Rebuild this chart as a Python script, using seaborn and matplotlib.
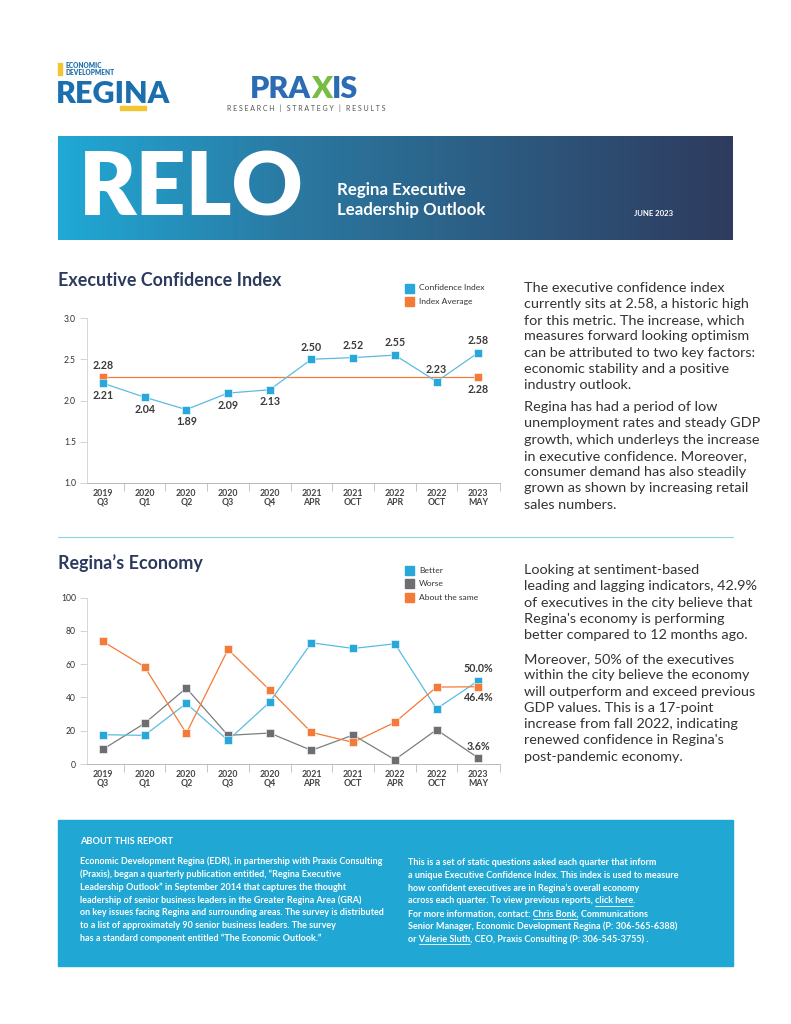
import numpy as np
import seaborn as sns
import matplotlib.pyplot as plt
from matplotlib.colors import LinearSegmentedColormap
from matplotlib.patches import Rectangle
from matplotlib.lines import Line2D

# ---- data ----
periods = ["2019\nQ3", "2020\nQ1", "2020\nQ2", "2020\nQ3", "2020\nQ4",
           "2021\nAPR", "2021\nOCT", "2022\nAPR", "2022\nOCT", "2023\nMAY"]
confidence = [2.21, 2.04, 1.89, 2.09, 2.13, 2.50, 2.52, 2.55, 2.23, 2.58]
index_avg = 2.28
conf_label_side = ["below"] * 5 + ["above"] * 5

better = [17.6, 17.2, 36.4, 14.2, 37.2, 72.8, 69.4, 72.2, 33.2, 50.0]
worse = [8.8, 24.4, 45.6, 17.2, 18.6, 8.2, 17.4, 2.6, 20.6, 3.6]
same = [73.6, 58.4, 18.4, 68.8, 44.4, 19.0, 13.0, 25.0, 46.2, 46.4]

conf_text = [
    ["The executive confidence index",
     "currently sits at 2.58, a historic high",
     "for this metric. The increase, which",
     "measures forward looking optimism",
     "can be attributed to two key factors:",
     "economic stability and a positive",
     "industry outlook."],
    ["Regina has had a period of low",
     "unemployment rates and steady GDP",
     "growth, which underleys the increase",
     "in executive confidence. Moreover,",
     "consumer demand has also steadily",
     "grown as shown by increasing retail",
     "sales numbers."],
]
econ_text = [
    ["Looking at sentiment-based",
     "leading and lagging indicators, 42.9%",
     "of executives in the city believe that",
     "Regina's economy is performing",
     "better compared to 12 months ago."],
    ["Moreover, 50% of the executives",
     "within the city believe the economy",
     "will outperform and exceed previous",
     "GDP values. This is a 17-point",
     "increase from fall 2022, indicating",
     "renewed confidence in Regina's",
     "post-pandemic economy."],
]
about_left = [
    "Economic Development Regina (EDR), in partnership with Praxis Consulting",
    "(Praxis), began a quarterly publication entitled, \u201cRegina Executive",
    "Leadership Outlook\u201d in September 2014 that captures the thought",
    "leadership of senior business leaders in the Greater Regina Area (GRA)",
    "on key issues facing Regina and surrounding areas. The survey is distributed",
    "to a list of approximately 90 senior business leaders. The survey",
    "has a standard component entitled \u201cThe Economic Outlook.\u201d",
]
about_right = [
    "This is a set of static questions asked each quarter that inform",
    "a unique Executive Confidence Index. This index is used to measure",
    "how confident executives are in Regina\u2019s overall economy",
    "across each quarter. To view previous reports, click here.",
    "For more information, contact: Chris Bonk, Communications",
    "Senior Manager, Economic Development Regina (P: 306-565-6388)",
    "or Valerie Sluth, CEO, Praxis Consulting (P: 306-545-3755) .",
]
links = {3: "click here", 4: "Chris Bonk", 6: "Valerie Sluth"}

# ---- colours ----
BLUE = "#27a7da"
BLUE_LINE = "#5bbbe3"
ORANGE = "#f47a38"
GRAY = "#6e6e70"
NAVY = "#2c3a5e"
TEXT = "#333333"
BOX = "#20a7d4"

sns.set_theme(style="white")
plt.rcParams["font.family"] = ["Lato", "DejaVu Sans"]

W, H = 791, 1024
fig = plt.figure(figsize=(W / 100, H / 100), dpi=100)


def fx(px):
    return px / W


def fy(py):
    return 1 - py / H


def lines_at(x, y0, step, lines, **kw):
    out = []
    for i, s in enumerate(lines):
        out.append(fig.text(fx(x), fy(y0 + i * step), s, va="center", **kw))
    return out


# ---- header logos ----
fig.add_artist(Rectangle((fx(58), fy(75)), fx(4), 12 / H, color="#f3c530"))
fig.text(fx(66), fy(66), "ECONOMIC", fontsize=4.7, fontweight="heavy", color="#1b6fae", va="center")
fig.text(fx(66), fy(72.5), "DEVELOPMENT", fontsize=4.7, fontweight="heavy", color="#1b6fae", va="center")
fig.text(fx(56), fy(103), "REGINA", fontsize=22, fontweight="heavy", color="#1b6fae", va="baseline")
fig.add_artist(Rectangle((fx(120), fy(110)), fx(26), 4 / H, color="#f3c530"))

fig.canvas.draw()
renderer = fig.canvas.get_renderer()
px_x = 250
for part, col in [("PRA", "#2b6cb4"), ("X", "#76bd43"), ("IS", "#2b6cb4")]:
    t = fig.text(fx(px_x), fy(98), part, fontsize=22, fontweight="heavy", color=col, va="baseline")
    px_x += t.get_window_extent(renderer).width
fig.text(fx(227), fy(108.5), "R E S E A R C H   |   S T R A T E G Y   |   R E S U L T S",
         fontsize=5.0, color="#555555", va="center")

# ---- banner ----
ax_b = fig.add_axes([fx(58), fy(240), fx(675), 104 / H])
grad = np.linspace(0, 1, 256).reshape(1, -1)
cmap = LinearSegmentedColormap.from_list("band", ["#20a9d6", "#2a7aa3", "#2d5a80", "#2e3b5e"])
ax_b.imshow(grad, aspect="auto", cmap=cmap, extent=[0, 1, 0, 1])
ax_b.set_axis_off()
fig.text(fx(79), fy(190), "RELO", fontsize=63, fontweight="heavy", color="white", va="center")
fig.text(fx(337), fy(190), "Regina Executive", fontsize=12.2, fontweight="bold", color="white", va="center")
fig.text(fx(337), fy(210), "Leadership Outlook", fontsize=12.2, fontweight="bold", color="white", va="center")
fig.text(fx(634), fy(214), "JUNE 2023", fontsize=5.6, fontweight="bold", color="white", va="center")


def style_axes(ax, ylim, yticks, yfmt):
    n = len(periods)
    ax.set_xlim(-0.38, n - 0.48)
    ax.set_ylim(*ylim)
    ax.set_yticks(yticks)
    ax.set_yticklabels([yfmt.format(v) for v in yticks], fontsize=6.2, color=TEXT)
    ax.set_xticks(range(n))
    ax.set_xticklabels(periods, fontsize=6.3, fontweight="bold", color="#444444", linespacing=1.0)
    ax.set_xticks(list(np.arange(0.5, n - 1, 1.0)) + [n - 0.48], minor=True)
    ax.tick_params(axis="x", which="major", length=0, pad=4)
    ax.tick_params(axis="x", which="minor", length=6, width=0.6, color="#bbbbbb", direction="out", bottom=True)
    ax.tick_params(axis="y", length=5, width=0.6, color="#cccccc", direction="out", left=True, pad=3)
    sns.despine(ax=ax)
    ax.spines["left"].set_color("#d0d0d0")
    ax.spines["bottom"].set_color("#b0b0b0")
    ax.spines["left"].set_linewidth(0.6)
    ax.spines["bottom"].set_linewidth(0.6)
    ax.set_xlabel("")
    ax.set_ylabel("")
    ax.grid(False)


def legend_at(x, y0, items):
    for i, (lab, col) in enumerate(items):
        yy = y0 + i * 13.3
        fig.add_artist(Rectangle((fx(x), fy(yy + 4.5)), fx(9), 9 / H, color=col))
        fig.text(fx(x + 14), fy(yy), lab, fontsize=6.1, color=TEXT, va="center")


mk = dict(marker="s", s=34, edgecolor="white", linewidth=0.4, zorder=4, legend=False)
xs = np.arange(len(periods))
BODY = dict(fontsize=10.4, color=TEXT)

# ---- chart 1: Executive Confidence Index ----
fig.text(fx(58), fy(281), "Executive Confidence Index", fontsize=12.9, fontweight="bold", color=NAVY, va="center")
legend_at(405, 288, [("Confidence Index", BLUE), ("Index Average", ORANGE)])

ax1 = fig.add_axes([fx(87), fy(483), fx(413), 165 / H])
sns.lineplot(x=xs, y=[index_avg] * len(xs), ax=ax1, color=ORANGE, lw=0.9)
sns.lineplot(x=xs, y=confidence, ax=ax1, color=BLUE_LINE, lw=0.9)
sns.scatterplot(x=[xs[0], xs[-1]], y=[index_avg, index_avg], ax=ax1, color=ORANGE, **mk)
sns.scatterplot(x=xs, y=confidence, ax=ax1, color=BLUE, **mk)
style_axes(ax1, (1.0, 3.0), [1.0, 1.5, 2.0, 2.5, 3.0], "{:.1f}")

lab = dict(textcoords="offset points", ha="center", va="center", fontsize=7.7, fontweight="bold", color="#3a3a3a")
for xi, v, side in zip(xs, confidence, conf_label_side):
    ax1.annotate(f"{v:.2f}", (xi, v), xytext=(0, 8.8 if side == "above" else -8.8), **lab)
ax1.annotate(f"{index_avg:.2f}", (xs[0], index_avg), xytext=(0, 8.8), **lab)
ax1.annotate(f"{index_avg:.2f}", (xs[-1], index_avg), xytext=(0, -8.8), **lab)

for i, para in enumerate(conf_text):
    lines_at(524, [287.5, 407][i], 16.3, para, **BODY)

# separator
fig.add_artist(Line2D([fx(58), fx(733)], [fy(537), fy(537)], color="#8ccfea", lw=0.8))

# ---- chart 2: Regina's Economy ----
fig.text(fx(58), fy(563), "Regina\u2019s Economy", fontsize=12.9, fontweight="bold", color=NAVY, va="center")
legend_at(405, 570.5, [("Better", BLUE), ("Worse", GRAY), ("About the same", ORANGE)])

ax2 = fig.add_axes([fx(87), fy(764), fx(413), 166.5 / H])
sns.lineplot(x=xs, y=worse, ax=ax2, color="#7d7d7f", lw=0.9)
sns.lineplot(x=xs, y=better, ax=ax2, color=BLUE_LINE, lw=0.9)
sns.lineplot(x=xs, y=same, ax=ax2, color=ORANGE, lw=0.9)
sns.scatterplot(x=xs, y=worse, ax=ax2, color=GRAY, **mk)
sns.scatterplot(x=xs, y=better, ax=ax2, color=BLUE, **mk)
sns.scatterplot(x=xs, y=same, ax=ax2, color=ORANGE, **mk)
style_axes(ax2, (0, 100), [0, 20, 40, 60, 80, 100], "{:d}")

ax2.annotate(f"{better[-1]:.1f}%", (xs[-1], better[-1]), xytext=(0, 8.8), **lab)
ax2.annotate(f"{same[-1]:.1f}%", (xs[-1], same[-1]), xytext=(0, -7.5), **lab)
ax2.annotate(f"{worse[-1]:.1f}%", (xs[-1], worse[-1]), xytext=(0, 8), **lab)

for i, para in enumerate(econ_text):
    lines_at(524, [570, 659][i], 16.3, para, **BODY)

# ---- about box ----
ABOUT = dict(fontsize=6.5, fontweight="bold", color="white")
fig.add_artist(Rectangle((fx(58), fy(966)), fx(675), 146 / H, color=BOX))
fig.text(fx(80), fy(842), "ABOUT THIS REPORT", fontsize=6.7, fontweight="bold", color="white", va="center")
lines_at(80, 861.5, 12.8, about_left, **ABOUT)
lines_at(408, 862.5, 12.8, about_right, **ABOUT)

fig.canvas.draw()
renderer = fig.canvas.get_renderer()


def text_width(s):
    t = fig.text(0, 0, s, fontsize=ABOUT["fontsize"], fontweight="bold")
    w = t.get_window_extent(renderer).width
    t.remove()
    return w


for row, sub in links.items():
    s = about_right[row]
    i = s.index(sub)
    start = text_width(s[:i] + sub[0]) - text_width(sub[0])
    end = text_width(s[:i] + sub)
    yy = 862.5 + row * 12.8 + 5
    fig.add_artist(Line2D([fx(408 + start), fx(408 + end)], [fy(yy), fy(yy)], color="white", lw=0.6))

fig.savefig("out.png", dpi=100, facecolor="white")
